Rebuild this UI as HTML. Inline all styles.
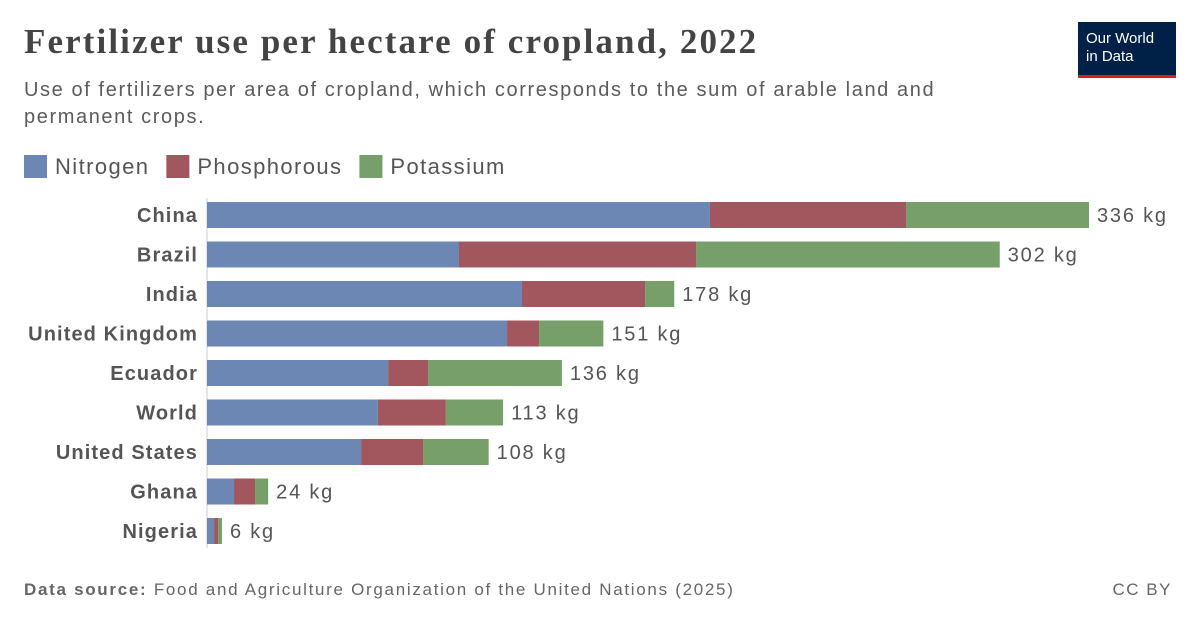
<!DOCTYPE html>
<html><head><meta charset="utf-8">
<style>
body{margin:0;background:#fff;font-family:"Liberation Sans",sans-serif;}
#c{position:relative;width:1200px;height:627px;overflow:hidden;}
.t{position:absolute;white-space:nowrap;}
</style></head><body>
<div id="c">
<div class="t" style="left:24px;top:22px;font-family:'Liberation Serif',serif;font-weight:bold;font-size:35px;color:#444;letter-spacing:2.1px;">Fertilizer use per hectare of cropland, 2022</div>
<div class="t" style="left:24px;top:77px;font-size:20px;line-height:27px;color:#5b5b5b;letter-spacing:1.6px;">Use of fertilizers per area of cropland, which corresponds to the sum of arable land and<br>permanent crops.</div>
<div style="position:absolute;left:1078px;top:22px;width:98px;height:56px;background:#002147;border-bottom:3px solid #ce261e;box-sizing:border-box;color:#fff;font-size:15px;line-height:18px;padding:8px 0 0 8px;">Our World<br>in Data</div>
<svg id="s" width="1200" height="627" style="position:absolute;left:0;top:0;"></svg>
<div class="t" style="left:24px;top:580px;font-size:17px;color:#666;letter-spacing:1.7px;"><b>Data source:</b> Food and Agriculture Organization of the United Nations (2025)</div>
<div class="t" style="right:28px;top:580px;font-size:17px;color:#666;letter-spacing:1.5px;">CC BY</div>
</div>
<script>
const categories=["China","Brazil","India","United Kingdom","Ecuador","World","United States","Ghana","Nigeria"];
const nitrogen=[191.6,96,120,114.3,69,65.1,58.7,10.3,2.7];
const phosphorous=[74.7,90.3,46.9,12.2,15.2,25.9,23.6,8,1.5];
const potassium=[69.7,115.7,11.1,24.5,51,21.8,25,5,1.5];
const totalLabels=["336 kg","302 kg","178 kg","151 kg","136 kg","113 kg","108 kg","24 kg","6 kg"];
const seriesNames=["Nitrogen","Phosphorous","Potassium"];
const colors=["#6d87b4","#a2575f","#779f6a"];
const NS="http://www.w3.org/2000/svg";
const s=document.getElementById('s');
const x0=207,k=2.625;
const x=v=>x0+v*k;
const y=i=>215+i*39.5;
function mk(t,a){const e=document.createElementNS(NS,t);for(const q in a)e.setAttribute(q,a[q]);s.appendChild(e);return e;}
let lx=24;
seriesNames.forEach((n,i)=>{
 const r=mk('rect',{x:lx,y:155,width:23,height:23,fill:colors[i]});
 
 
 const t=mk('text',{x:lx+31,y:174,'font-size':22,fill:'#555','font-family':'Liberation Sans,sans-serif',style:'letter-spacing:1.4px'});
 t.textContent=n;
 
 
 lx+=31+t.getComputedTextLength()+17;
});
const ax=mk('line',{x1:x0,x2:x0,y1:198,y2:548,stroke:'#ccc','stroke-width':1});


const series=[nitrogen,phosphorous,potassium];
categories.forEach((c,i)=>{
 const cy=y(i);
 const lab=mk('text',{x:198,y:cy+7,'text-anchor':'end','font-size':20,'font-weight':'bold',fill:'#555','font-family':'Liberation Sans,sans-serif',style:'letter-spacing:1.1px'});
 lab.textContent=c;
 
 
 let acc=0;
 series.forEach((sv,j)=>{
  const r=mk('rect',{x:x(acc),y:cy-13,width:sv[i]*k,height:26,fill:colors[j]});
  
  
  acc+=sv[i];
 });
 const v=mk('text',{x:x(acc)+8,y:cy+7,'font-size':20,fill:'#555','font-family':'Liberation Sans,sans-serif',style:'letter-spacing:1.8px'});
 v.textContent=totalLabels[i];
 
 
});
</script>
</body></html>
